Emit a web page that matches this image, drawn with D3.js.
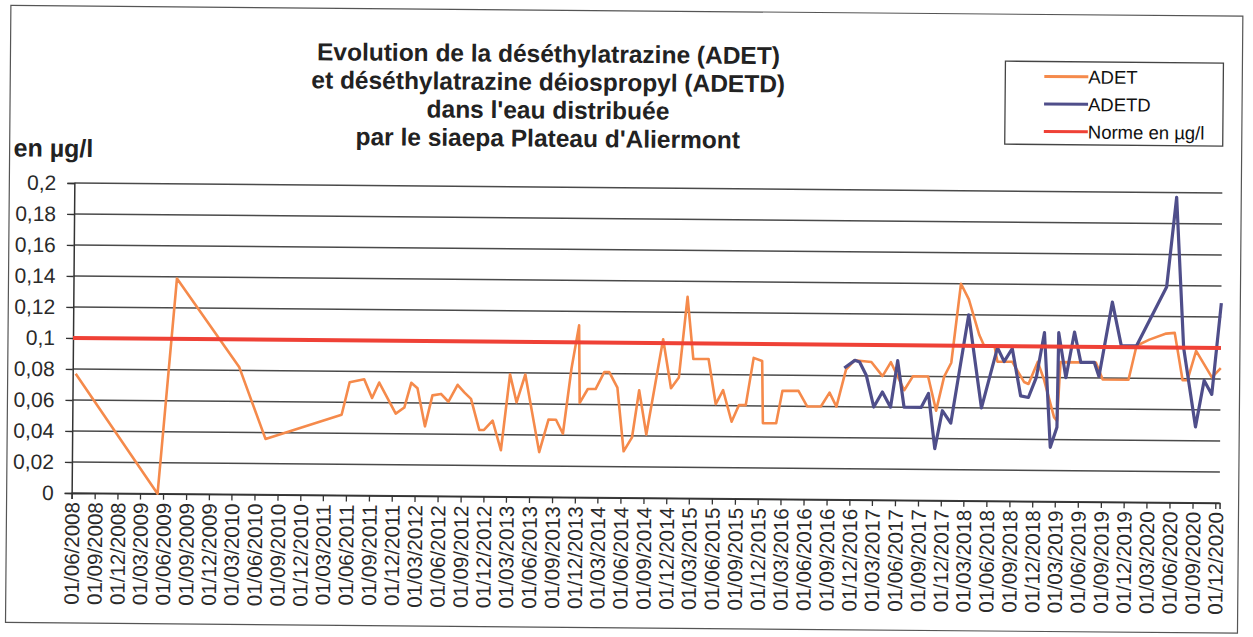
<!DOCTYPE html>
<html><head><meta charset="utf-8">
<script src="https://cdn.jsdelivr.net/npm/d3@7"></script>
<style>
body{margin:0;background:#fff;}
svg{display:block;font-family:"Liberation Sans",Arial,sans-serif;}
</style>
</head><body>
<svg id="c" width="1253" height="637"></svg>
<script>
// ---------- data ----------
const titleLines = [
  "Evolution de la déséthylatrazine (ADET)",
  "et déséthylatrazine déiospropyl (ADETD)",
  "dans l'eau distribuée",
  "par le siaepa Plateau d'Aliermont"
];
const yUnitLabel = "en µg/l";
const seriesNames = ["ADET", "ADETD", "Norme en µg/l"];

const adetDates = ["2008-06-13","2009-05-10","2009-07-19","2010-03-28","2010-07-13","2011-05-12","2011-06-12","2011-08-09","2011-09-10","2011-10-08",
"2011-12-14","2012-01-17","2012-02-13","2012-03-09","2012-04-09","2012-05-08","2012-06-11","2012-07-11","2012-08-16","2012-09-13",
"2012-10-09","2012-11-12","2012-12-01","2013-01-04","2013-02-07","2013-03-13","2013-04-09","2013-05-13","2013-07-10","2013-08-15",
"2013-09-14","2013-10-12","2013-11-13","2013-12-12","2013-12-17","2014-01-18","2014-02-18","2014-03-24","2014-04-13","2014-05-16",
"2014-06-12","2014-07-15","2014-08-11","2014-09-10","2014-11-13","2014-12-16","2015-01-16","2015-02-17","2015-03-14","2015-05-14",
"2015-06-13","2015-07-12","2015-08-16","2015-09-14","2015-10-11","2015-11-10","2015-12-14","2015-12-19","2016-02-10","2016-03-05",
"2016-05-08","2016-06-12","2016-08-06","2016-09-09","2016-10-07","2016-11-13","2016-12-16","2017-02-22","2017-04-08","2017-05-11",
"2017-06-07","2017-07-04","2017-08-07","2017-10-07","2017-11-09","2017-12-10","2018-01-07","2018-02-12","2018-03-16","2018-04-28",
"2018-05-18","2018-06-28","2018-07-10","2018-09-07","2018-10-25","2018-11-12","2018-12-18","2019-01-13","2019-02-23","2019-03-07",
"2019-03-19","2019-08-07","2019-09-04","2019-12-16","2020-01-16","2020-03-07","2020-05-13","2020-06-16","2020-07-19","2020-08-07",
"2020-09-10","2020-11-13","2020-12-18"];
const adetValues = [0.077,0,0.139,0.082,0.036,0.052,0.073,0.075,0.063,0.073,
0.053,0.057,0.073,0.0695,0.045,0.065,0.066,0.061,0.072,0.067,
0.063,0.043,0.043,0.049,0.030,0.079,0.061,0.079,0.029,0.050,
0.050,0.041,0.083,0.111,0.061,0.070,0.070,0.081,0.081,0.071,
0.030,0.039,0.0695,0.041,0.1025,0.071,0.078,0.130,0.090,0.090,
0.061,0.070,0.0497,0.0605,0.0605,0.091,0.089,0.049,0.049,0.070,
0.070,0.060,0.060,0.069,0.060,0.084,0.090,0.089,0.080,0.089,
0.080,0.071,0.080,0.080,0.058,0.080,0.089,0.140,0.130,0.107,
0.100,0.100,0.090,0.090,0.077,0.0757,0.090,0.0785,0.0545,0.052,
0.090,0.090,0.079,0.079,0.101,0.105,0.109,0.1095,0.079,0.079,
0.098,0.081,0.087];

const adetdDates = ["2016-11-06","2016-12-18","2017-01-06","2017-02-02","2017-03-05","2017-04-08","2017-05-11","2017-06-07","2017-07-04","2017-09-10",
"2017-10-09","2017-11-05","2017-12-04","2018-01-07","2018-03-16","2018-05-09","2018-07-10","2018-08-06","2018-09-07","2018-10-12",
"2018-11-12","2018-12-13","2019-01-13","2019-02-09","2019-03-07","2019-03-11","2019-04-10","2019-05-13","2019-06-08","2019-08-01",
"2019-08-20","2019-10-10","2019-11-16","2020-01-16","2020-05-13","2020-06-19","2020-07-22","2020-09-10","2020-10-13","2020-11-13",
"2020-12-18"];
const adetdValues = [0.085,0.090,0.089,0.0805,0.060,0.0697,0.060,0.090,0.060,0.060,
0.069,0.0335,0.058,0.050,0.120,0.060,0.099,0.090,0.0985,0.068,
0.067,0.080,0.109,0.035,0.048,0.109,0.080,0.1095,0.090,0.090,
0.081,0.129,0.101,0.101,0.139,0.197,0.100,0.049,0.079,0.070,
0.129];

const normeDates = ["2008-06-01","2020-12-18"];
const normeValues = [0.1, 0.1];

const xStart = "2008-06-01", xEnd = "2020-12-18", xLastTick = "2020-12-02";
const yTicks = [0,0.02,0.04,0.06,0.08,0.1,0.12,0.14,0.16,0.18,0.2];

// ---------- drawing ----------
const parse = d3.timeParse("%Y-%m-%d");
const colors = {adet:"#F58A4B", adetd:"#4F4E8A", norme:"#EF4136"};
const svg = d3.select("#c");
const root = svg.append("g").attr("transform","rotate(0.5 645 340)");

const x = d3.scaleTime().domain([parse(xStart), parse(xEnd)]).range([73,1221]);
const y = d3.scaleLinear().domain([0,0.2]).range([498,188]);

// frame
root.append("rect").attr("x",8).attr("y",11).attr("width",1232).attr("height",617)
  .attr("fill","none").attr("stroke","#555").attr("stroke-width",1.2);

// gridlines
root.append("g").selectAll("line").data(yTicks).join("line")
  .attr("x1",x.range()[0]).attr("x2",x.range()[1])
  .attr("y1",d=>y(d)).attr("y2",d=>y(d))
  .attr("stroke","#4a4a4a").attr("stroke-width",1.5);

// y axis
const yAxis = root.append("g").attr("transform",`translate(${x.range()[0]},0)`)
  .call(d3.axisLeft(y).tickValues(yTicks).tickSize(7).tickPadding(11)
    .tickFormat(d=>d3.format("~g")(d).replace(".",",")));
yAxis.select(".domain").attr("stroke","#333").attr("stroke-width",1.5);
yAxis.selectAll(".tick line").attr("stroke","#333").attr("stroke-width",1.3);
yAxis.selectAll("text").attr("font-size",21).attr("fill","#2a2a2a").attr("font-family","Liberation Sans, Arial, sans-serif");

// x axis
const xTicks = d3.timeMonth.range(parse(xStart), parse(xLastTick), 3);
const xAxis = root.append("g").attr("transform",`translate(0,${y(0)})`)
  .call(d3.axisBottom(x).tickValues(xTicks).tickSize(6).tickFormat(d3.timeFormat("%d/%m/%Y")));
xAxis.select(".domain").attr("stroke","#333").attr("stroke-width",1.5);
xAxis.selectAll(".tick line").attr("stroke","#333").attr("stroke-width",1.3);
xAxis.selectAll("text")
  .attr("font-size",20.5).attr("fill","#2a2a2a").attr("font-family","Liberation Sans, Arial, sans-serif")
  .attr("text-anchor","end").attr("transform","rotate(-90)")
  .attr("x",-9).attr("y",0).attr("dy","0.36em");

// series
const mk = (ds,vs)=>ds.map((d,i)=>({date:parse(d), v:vs[i]}));
const line = d3.line().x(d=>x(d.date)).y(d=>y(d.v));
root.append("path").datum(mk(adetDates,adetValues)).attr("d",line)
  .attr("fill","none").attr("stroke",colors.adet).attr("stroke-width",2.6).attr("stroke-linejoin","round");
root.append("path").datum(mk(adetdDates,adetdValues)).attr("d",line)
  .attr("fill","none").attr("stroke",colors.adetd).attr("stroke-width",3.2).attr("stroke-linejoin","round");
root.append("path").datum(mk(normeDates,normeValues)).attr("d",line)
  .attr("fill","none").attr("stroke",colors.norme).attr("stroke-width",4);

// title
root.append("g").selectAll("text").data(titleLines).join("text")
  .attr("x",546).attr("y",(d,i)=>63+i*28.2)
  .attr("text-anchor","middle").attr("font-size",24.5).attr("font-weight","bold").attr("fill","#222")
  .text(d=>d);

// unit label
root.append("text").attr("x",12).attr("y",162).attr("font-size",25).attr("font-weight","bold")
  .attr("fill","#222").text(yUnitLabel);

// legend
const lg = root.append("g");
lg.append("rect").attr("x",1003).attr("y",58).attr("width",218).attr("height",83)
  .attr("fill","#fff").attr("stroke","#444").attr("stroke-width",1.3);
const legColors = [colors.adet, colors.adetd, colors.norme];
const rows = lg.selectAll("g.row").data(seriesNames).join("g").attr("class","row")
  .attr("transform",(d,i)=>`translate(0,${73+i*27.5})`);
rows.append("line").attr("x1",1042).attr("x2",1086).attr("y1",0).attr("y2",0)
  .attr("stroke",(d,i)=>legColors[i]).attr("stroke-width",3);
rows.append("text").attr("x",1086).attr("y",0).attr("dy","0.36em")
  .attr("font-size",18.5).attr("fill","#111").text(d=>d);
</script>
</body></html>
